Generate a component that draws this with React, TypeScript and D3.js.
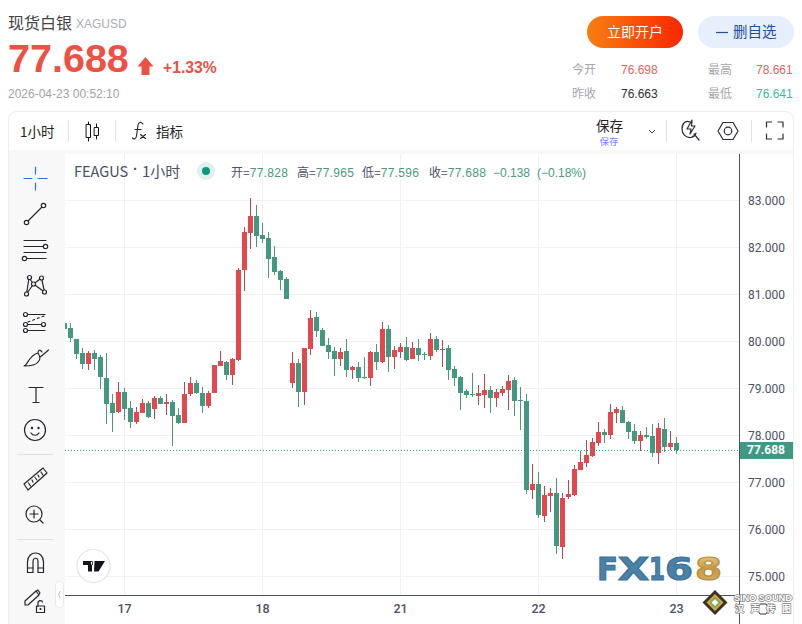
import React from "react";
import * as d3 from "d3";

// Hourly candles
const opens = [80.39,80.28,80.05,79.75,79.52,79.75,79.67,79.22,78.69,78.50,78.92,78.58,78.29,78.48,78.69,78.55,78.79,78.67,78.71,78.43,78.27,78.87,79.11,78.90,78.63,78.89,79.48,79.56,79.29,79.60,81.52,82.31,82.67,82.26,82.20,81.79,81.50,81.33,79.11,79.54,78.92,79.84,80.52,80.24,79.92,79.79,79.62,79.79,79.39,79.45,79.23,79.22,79.77,79.56,80.26,79.67,79.77,79.88,79.62,79.86,79.73,79.69,80.05,79.82,79.86,79.41,79.24,78.94,78.88,78.84,78.86,78.96,78.79,78.90,78.96,79.18,78.75,78.73,76.84,76.96,76.28,76.71,76.77,75.62,76.69,76.72,77.26,77.41,77.56,77.84,78.07,78.01,78.48,78.54,78.28,78.09,77.88,78.01,77.99,77.62,78.13,77.75,77.828];
const highs = [80.39,80.39,80.05,79.86,79.79,79.82,79.71,79.75,78.88,79.13,79.01,78.73,78.60,78.77,78.73,78.84,78.84,78.88,78.75,78.58,79.13,79.24,79.18,79.03,78.94,79.50,79.79,79.58,79.65,81.56,82.43,83.05,82.90,82.52,82.33,82.03,81.52,81.37,79.77,79.62,79.86,80.67,80.62,80.28,80.07,79.88,79.86,80.05,79.48,79.56,79.67,79.79,79.94,80.41,80.35,79.90,79.96,80.09,79.99,80.05,79.77,80.18,80.11,80.03,79.92,79.48,79.26,78.99,79.33,79.07,79.31,79.05,78.99,79.05,79.28,79.24,79.03,78.88,77.39,77.22,76.92,76.88,77.09,76.77,77.05,77.37,77.67,77.90,77.94,78.28,78.13,78.67,78.60,78.62,78.30,78.24,78.09,78.18,78.24,78.26,78.37,78.09,77.965];
const lows = [80.27,79.99,79.63,79.42,79.38,79.40,78.99,78.25,78.06,78.48,78.33,78.16,78.25,78.48,78.37,78.35,78.67,78.44,77.78,78.23,78.27,78.84,78.87,78.48,78.59,78.89,79.48,79.18,79.08,79.58,81.06,81.97,82.01,82.10,81.35,81.42,81.10,80.89,79.01,78.60,78.65,79.71,80.09,79.90,79.62,79.26,79.48,79.24,79.20,79.13,79.20,79.05,79.39,79.54,79.35,79.41,79.65,79.58,79.62,79.58,79.60,79.60,79.77,79.45,79.18,79.05,78.54,78.79,78.82,78.65,78.58,78.48,78.60,78.84,78.54,78.41,78.11,76.75,76.65,76.24,76.16,76.37,75.48,75.37,76.65,76.71,77.26,77.33,77.54,77.77,77.84,77.92,78.26,78.26,77.92,77.82,77.67,77.92,77.54,77.39,77.65,77.69,77.596];
const closes = [80.27,80.06,79.72,79.52,79.75,79.63,79.23,78.67,78.48,78.92,78.57,78.29,78.50,78.69,78.39,78.79,78.67,78.71,78.42,78.27,78.88,79.11,78.89,78.63,78.90,79.50,79.58,79.29,79.62,81.52,82.33,82.67,82.25,82.18,81.76,81.48,81.31,80.91,79.54,78.92,79.86,80.50,80.22,79.90,79.77,79.62,79.77,79.39,79.45,79.22,79.22,79.77,79.56,80.26,79.67,79.82,79.88,79.60,79.86,79.71,79.71,80.05,79.82,79.84,79.39,79.22,78.90,78.86,78.86,78.90,78.96,78.79,78.92,78.99,79.16,78.73,78.73,76.84,76.96,76.31,76.73,76.77,75.65,76.67,76.75,77.28,77.43,77.58,77.86,78.07,78.01,78.50,78.56,78.26,78.07,77.88,78.01,77.96,77.62,78.16,77.75,77.84,77.688];

const priceTicks = [83, 82, 81, 80, 79, 78, 77, 76, 75];
const dayLabels = ["17", "18", "21", "22", "23"];
const dayIndex = [10, 33, 56, 79, 102];
const lastPrice = 77.688;

const legendLabels = ["开=", "高=", "低=", "收="];
const legendValues = ["77.828", "77.965", "77.596", "77.688"];
const legendX = [231, 297, 362, 429];

const logoGlyphs = ["F", "X", "1", "6"];
const logoX = [597, 618, 649, 665];
const logoW = [21, 31, 16, 28];

const AXIS = "#4a5068";
const UP = "#e5474e";
const DOWN = "#42997f";
const UP_WICK = "#c0434f";
const DOWN_WICK = "#4c9a6b";
const CJK = "'Noto Sans CJK SC','Liberation Sans',sans-serif";
const LAT = "'Liberation Sans',Arial,sans-serif";
const AX = "Roboto,'Liberation Sans',sans-serif";

const x = d3.scaleLinear().domain([0, 102]).range([64.5, 676.5]);
const y = d3.scaleLinear().domain([75, 83]).range([576.3, 200.3]);

const I = ({ children, c = "#24262d", w = 1.2 }: any) => (
  <g fill="none" stroke={c} strokeWidth={w} strokeLinecap="round" strokeLinejoin="round">{children}</g>
);

function Sidebar() {
  return (
    <g>
      <I c="#2e6bff" w={1.2}>
        <path d="M24 178.5h8M38 178.5h9M35.500 167v7M35.500 183v7" />
      </I>
      <I>
        <path d="M28 221L42 207" />
        <circle cx="26.500" cy="222.500" r="2.200" fill="#fff" />
        <circle cx="43.500" cy="205.500" r="2.200" fill="#fff" />
      </I>
      <I>
        <path d="M24 240.500h22M24 246.500h19M24 252.500h22M27 258.500h19" />
        <circle cx="45.500" cy="246.500" r="2.200" fill="#fff" />
        <circle cx="24.500" cy="258.500" r="2.200" fill="#fff" />
      </I>
      <I>
        <path d="M29 278L26.500 294M29 278L33.500 284M41.500 278L33.500 284M41.500 278L44.500 292M33.500 284L26.500 294M33.500 284L44.500 292" />
        <circle cx="29.500" cy="277.500" r="2" fill="#fff" />
        <circle cx="41.500" cy="278" r="2" fill="#fff" />
        <circle cx="33.500" cy="284" r="2" fill="#fff" />
        <circle cx="26.500" cy="294" r="2" fill="#fff" />
        <circle cx="44.500" cy="292" r="2" fill="#fff" />
      </I>
      <I>
        <path d="M27 314.500h18M27 324.500h18M27 330.500h18" />
        <path d="M28 322L44 316" strokeDasharray="2 3" />
        <circle cx="25.500" cy="314.500" r="2" fill="#fff" />
        <circle cx="25.500" cy="324.500" r="2" fill="#fff" />
        <circle cx="43.500" cy="324.500" r="2" fill="#fff" />
        <circle cx="25.500" cy="330.500" r="2" fill="#fff" />
      </I>
      <I>
        <path d="M24 366C28 365 29 355 38 353C40 356 41 360 38 362C36 365 30 366 24 366ZM40 357C43 355 46 352 48.500 350M38 353C38 350 40 349 42 352" />
      </I>
      <I>
        <path d="M29 387.500h14M36 387.500v15M33 402.500h6" />
      </I>
      <I>
        <circle cx="35" cy="430" r="10.500" />
        <circle cx="32" cy="428" r=".6" fill="#24262d" />
        <circle cx="38.500" cy="428" r=".6" fill="#24262d" />
        <path d="M31 433C33 436 37 436 39 433" />
      </I>
      <path d="M17 454.500h36M17 539.500h36" stroke="#dde0ea" strokeWidth="1" />
      <I>
        <path d="M24 484L43 468L47 473L28 490Z" />
        <path d="M28.500 483L30.500 486M32 480L33 482M35 477.500L37 480M38 475L39 477M41 472L43 475" />
      </I>
      <I>
        <circle cx="34" cy="514" r="8" />
        <path d="M30 514h8M34 510v8M40 520L43 523" />
      </I>
      <I>
        <path d="M27.500 572.500V562C27.500 550 43.500 550 43.500 562V572.500H38V562C38 557 33 557 33 562V572.500Z" />
        <path d="M27.500 568h5.500M38 568h5.500" />
      </I>
      <I>
        <path d="M25 605L25 601L36 591L39 595L28 605ZM35 592L38 590L40 593L38.500 595" />
        <rect x="36.500" y="606" width="8" height="6.500" />
        <path d="M38 606V603C38 600 42 600 42.500 602" />
        <circle cx="40.500" cy="609" r=".5" />
      </I>
      <rect x="55.500" y="581.500" width="8" height="26" rx="3.500" fill="#fff" stroke="#e8e9ee" />
      <path d="M60.500 591L58.500 594.500L60.500 598" fill="none" stroke="#b5b8c2" />
    </g>
  );
}

function Toolbar() {
  return (
    <g>
      <text x="20" y="137" fontFamily={CJK} fontSize="13.500" fill="#222">1小时</text>
      <path d="M68.500 120v22M115.500 120v22M666.500 120v22M751.500 120v22" stroke="#dfe1e8" />
      <I c="#111" w={1}>
        <rect x="86.500" y="124.500" width="4" height="13" />
        <path d="M88.500 122v2M88.500 138v3" />
        <rect x="94.500" y="127.500" width="4" height="8" />
        <path d="M96.500 124v3M96.500 136v3" />
      </I>
      <I c="#222" w={1.100}>
        <path d="M143 124C141 121.500 138.500 122 138 125L136.500 136C136 139 134 139.500 132.500 138M135 129.500H141" />
        <path d="M140.500 134.500L145.500 138.500M145.500 134.500L140.500 138.500" />
      </I>
      <text x="156" y="137" fontFamily={CJK} fontSize="13.500" fill="#222">指标</text>
      <text x="596" y="131" fontFamily={CJK} fontSize="13.500" fill="#222">保存</text>
      <text x="599.500" y="145" fontFamily={CJK} fontSize="9.500" fill="#6f7fff">保存</text>
      <path d="M649 130l3 3 3-3" fill="none" stroke="#444" />
      <I c="#2a2c34" w={1.2}>
        <path d="M690 122C686 120 682 123 682 129C682 134 686 138 691 137.500C693 137 695 136 696 133M694 134L699 140" />
        <path d="M692 120L687 129H691L690 134L695 126H691.500Z" />
        <path d="M718 131L723 122.500H733L738 131L733 139.500H723Z" />
        <circle cx="728" cy="131" r="3.800" />
        <path d="M766.500 127v-5h5M778 122h5v5M783 134v5h-5M771.500 139h-5v-5" />
      </I>
    </g>
  );
}

function Logos() {
  return (
    <g>
      <circle cx="93.500" cy="566" r="16.500" fill="#fff" stroke="#e3e5ee" strokeWidth="1.200" />
      <path d="M83 561H92V571.500H88V565H83ZM94.500 561H105L98.500 571.500H94Z M92.700 561a2 2 0 1 0 0.100 4z" fill="#13151c" />
      <defs>
        <linearGradient id="gold" x1="0" y1="0" x2="0" y2="1">
          <stop offset="0" stopColor="#eed28f" />
          <stop offset="0.5" stopColor="#c69a45" />
          <stop offset="1" stopColor="#d6b46c" />
        </linearGradient>
      </defs>
      <g fontFamily="'DejaVu Sans',sans-serif" fontWeight="bold" fontSize="31.500">
        {logoGlyphs.map((g, i) => (
          <text key={g} x={logoX[i]} y={580} textLength={logoW[i]} lengthAdjust="spacingAndGlyphs" fill="#4a81a6" stroke="#3f7397" strokeWidth="1.200">{g}</text>
        ))}
        <text x={695} y={580} textLength={27} lengthAdjust="spacingAndGlyphs" fill="url(#gold)" stroke="#b98f42" strokeWidth="1.200">8</text>
      </g>
      <g>
        <path d="M715 590L727.500 602.500L715 615L702.500 602.500Z" fill="#3a3320" />
        <path d="M715 594L723.500 602.500L715 611L706.500 602.500Z" fill="#c9a94f" />
        <path d="M715 598L719.500 602.500L715 607L710.500 602.500Z" fill="#fff" stroke="#7da24a" strokeWidth="1.500" />
      </g>
      <path d="M760 604L766 604L769 609L766 614L760 614L757 609Z" fill="none" stroke="#333" strokeWidth="1" />
      <text x="734" y="601" fontFamily={LAT} fontWeight="bold" fontSize="9.500" textLength="58" fill="#fff" stroke="#8a8a8a" strokeWidth="1.600" paintOrder="stroke">SINO SOUND</text>
      <text x="735" y="612" fontFamily={CJK} fontWeight="bold" fontSize="9" textLength="56" fill="#fff" stroke="#8a8a8a" strokeWidth="1.400" paintOrder="stroke">汉 声 传 图</text>
    </g>
  );
}

export default function App() {
  const lastY = y(lastPrice);
  return (
    <svg width={802} height={624} style={{ position: "absolute", left: 0, top: 0, background: "#fff" }}>
      {/* header */}
      <text x="8" y="29" fontFamily={CJK} fontSize="16" fill="#444">现货白银</text>
      <text x="76" y="28" fontFamily={LAT} fontSize="12" fill="#a9abb2">XAGUSD</text>
      <text x="8" y="72" fontFamily={LAT} fontWeight="bold" fontSize="39.500" fill="#ec5145">77.688</text>
      <path d="M145.500 57L153.500 66.500H149.500V75H141.500V66.500H137.500Z" fill="#ec5145" />
      <text x="163" y="73" fontFamily={LAT} fontWeight="bold" fontSize="15.700" fill="#ec5145">+1.33%</text>
      <text x="8" y="98" fontFamily={LAT} fontSize="12" fill="#a0a2a8">2026-04-23 00:52:10</text>

      <defs>
        <linearGradient id="btn" x1="0" y1="0" x2="1" y2="0">
          <stop offset="0" stopColor="#f97e10" />
          <stop offset="1" stopColor="#f92800" />
        </linearGradient>
      </defs>
      <rect x="587" y="16" width="96" height="32" rx="16" fill="url(#btn)" />
      <text x="635" y="37" textAnchor="middle" fontFamily={CJK} fontSize="14" fill="#fff">立即开户</text>
      <rect x="698" y="16" width="96" height="32" rx="16" fill="#e7effd" />
      <path d="M716 32.500h12" stroke="#1d4f9a" strokeWidth="1.200" />
      <text x="733" y="37" fontFamily={CJK} fontSize="14.500" fill="#1d4f9a">删自选</text>

      <g fontSize="12" fontFamily={CJK} fill="#a4a6ad">
        <text x="572" y="74">今开</text>
        <text x="572" y="98">昨收</text>
        <text x="708" y="74">最高</text>
        <text x="708" y="98">最低</text>
      </g>
      <g fontSize="12" fontFamily={LAT}>
        <text x="621" y="74" fill="#e85f63">76.698</text>
        <text x="621" y="98" fill="#2d2f36">76.663</text>
        <text x="756" y="74" fill="#e85f63">78.661</text>
        <text x="756" y="98" fill="#3bb8a6">76.641</text>
      </g>

      {/* card */}
      <rect x="8.500" y="111.500" width="785" height="530" rx="8" fill="#fff" stroke="#eceded" />
      <rect x="9" y="150" width="784" height="4" fill="#f8f8f9" />
      <rect x="9" y="150" width="56" height="474" fill="#f8f8f9" />
      <Toolbar />
      <Sidebar />

      {/* grid */}
      <g stroke="#f1f1f3" strokeWidth="1" shapeRendering="crispEdges">
        {priceTicks.map((t) => (
          <line key={t} x1={65} x2={739} y1={Math.round(y(t)) + 0.5} y2={Math.round(y(t)) + 0.5} />
        ))}
        {dayIndex.map((d) => (
          <line key={d} x1={x(d)} x2={x(d)} y1={154} y2={595} />
        ))}
      </g>

      <g fill={AXIS}>
        <text x="74" y="177" fontFamily={CJK} fontSize="14.500">FEAGUS</text>
        <text x="133" y="174" fontFamily={LAT} fontWeight="bold" fontSize="14.500">·</text>
        <text x="142" y="177" fontFamily={CJK} fontSize="15">1小时</text>
      </g>
      <circle cx="206" cy="171" r="9" fill="#dff1ec" />
      <circle cx="206" cy="171" r="4" fill="#12957d" />
      <g fontSize="12" fontFamily={CJK}>
        {legendLabels.map((l, i) => (
          <text key={l} x={legendX[i]} y="176.500">
            <tspan fill={AXIS}>{l}</tspan>
            <tspan fill="#4a9a80" fontFamily={LAT} letterSpacing="0.300">{legendValues[i]}</tspan>
          </text>
        ))}
        <text x="493" y="176.500" fill="#4a9a80" fontFamily={LAT}>−0.138</text>
        <text x="537" y="176.500" fill="#4a9a80" fontFamily={LAT}>(−0.18%)</text>
      </g>

      {/* candles */}
      <defs>
        <clipPath id="plot"><rect x="65" y="154" width="674" height="441" /></clipPath>
      </defs>
      <g clipPath="url(#plot)" shapeRendering="crispEdges">
        {opens.map((o, i) => {
          const c = closes[i];
          const up = c >= o;
          const top = Math.round(y(Math.max(o, c)));
          const bot = Math.round(y(Math.min(o, c)));
          const cx = x(i);
          return (
            <g key={i}>
              <line x1={cx} x2={cx} y1={y(highs[i])} y2={y(lows[i])} stroke={up ? UP_WICK : DOWN_WICK} strokeWidth={1} />
              <rect x={cx - 2.5} y={top} width={5} height={Math.max(1, bot - top)} fill={up ? UP : DOWN} />
            </g>
          );
        })}
      </g>

      <line x1={65} x2={739} y1={Math.round(lastY) + 0.5} y2={Math.round(lastY) + 0.5} stroke="#2f9e84" strokeWidth={1} strokeDasharray="1 2" />

      {/* axes */}
      <line x1={65} x2={739} y1={595.500} y2={595.500} stroke={AXIS} />
      <line x1={739.500} x2={739.500} y1={154} y2={624} stroke={AXIS} />
      <g fontFamily={AX} fontSize="12" fill={AXIS}>
        {priceTicks.map((t) => (
          <text key={t} x={748} y={y(t) + 4.200}>{d3.format(".3f")(t)}</text>
        ))}
      </g>
      <g fontFamily={AX} fontSize="12.500" fontWeight="500" fill={AXIS} textAnchor="middle">
        {dayLabels.map((l, i) => (
          <text key={l} x={x(dayIndex[i])} y={612.500}>{l}</text>
        ))}
      </g>
      <rect x={740} y={lastY - 8} width={53} height={17} fill="#3f9a85" />
      <text x={747} y={lastY + 4.500} fontFamily={AX} fontWeight="bold" fontSize="12" fill="#fff">77.688</text>

      <Logos />
    </svg>
  );
}
